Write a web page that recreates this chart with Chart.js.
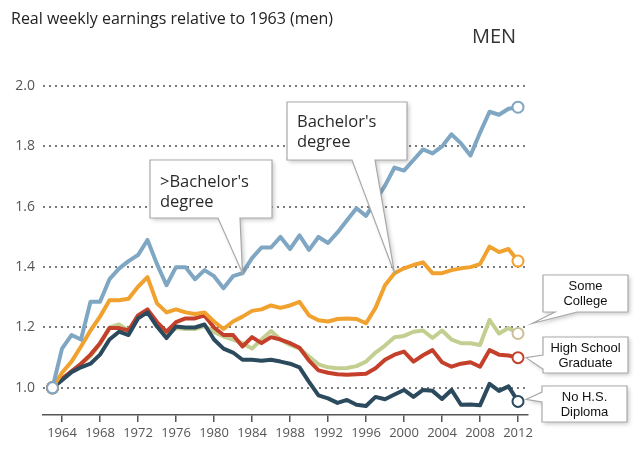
<!DOCTYPE html>
<html>
<head>
<meta charset="utf-8">
<script src="https://cdn.jsdelivr.net/npm/chart.js@4.4.1/dist/chart.umd.min.js"></script>
<style>
  html, body { margin: 0; padding: 0; background: #fff; }
  #wrap { width: 640px; height: 469px; }
</style>
</head>
<body>
<div id="wrap"><canvas id="earnings" width="640" height="469"></canvas></div>
<script>
const years = [1963, 1964, 1965, 1966, 1967, 1968, 1969, 1970, 1971, 1972,
  1973, 1974, 1975, 1976, 1977, 1978, 1979, 1980, 1981, 1982,
  1983, 1984, 1985, 1986, 1987, 1988, 1989, 1990, 1991, 1992,
  1993, 1994, 1995, 1996, 1997, 1998, 1999, 2000, 2001, 2002,
  2003, 2004, 2005, 2006, 2007, 2008, 2009, 2010, 2011, 2012];

// > Bachelor's degree
const moreThanBachelor = [1.00, 1.13, 1.175, 1.16, 1.285, 1.285, 1.36, 1.395, 1.42, 1.44,
  1.49, 1.41, 1.34, 1.40, 1.40, 1.36, 1.39, 1.37, 1.33, 1.37,
  1.38, 1.43, 1.465, 1.465, 1.50, 1.46, 1.505, 1.457, 1.50, 1.48,
  1.515, 1.555, 1.595, 1.57, 1.62, 1.67, 1.73, 1.72, 1.755, 1.79,
  1.777, 1.80, 1.84, 1.81, 1.77, 1.845, 1.915, 1.905, 1.925, 1.93];

const bachelor = [1.00, 1.05, 1.087, 1.137, 1.19, 1.236, 1.29, 1.29, 1.295, 1.335,
  1.367, 1.28, 1.25, 1.26, 1.25, 1.245, 1.25, 1.22, 1.195, 1.22,
  1.236, 1.255, 1.26, 1.273, 1.265, 1.273, 1.285, 1.24, 1.224, 1.22,
  1.228, 1.23, 1.228, 1.214, 1.265, 1.34, 1.38, 1.396, 1.407, 1.416,
  1.38, 1.38, 1.39, 1.396, 1.40, 1.41, 1.468, 1.45, 1.46, 1.42];

const someCollege = [1.00, 1.03, 1.055, 1.08, 1.105, 1.145, 1.20, 1.21, 1.19, 1.235,
  1.255, 1.21, 1.175, 1.198, 1.195, 1.195, 1.205, 1.185, 1.17, 1.16,
  1.148, 1.13, 1.16, 1.188, 1.16, 1.142, 1.13, 1.104, 1.078, 1.068,
  1.065, 1.066, 1.072, 1.087, 1.117, 1.14, 1.168, 1.172, 1.186, 1.19,
  1.165, 1.19, 1.16, 1.148, 1.148, 1.142, 1.225, 1.18, 1.198, 1.18];

const highSchool = [1.00, 1.03, 1.055, 1.08, 1.11, 1.148, 1.198, 1.198, 1.19, 1.24,
  1.26, 1.218, 1.186, 1.218, 1.23, 1.23, 1.24, 1.20, 1.175, 1.175,
  1.137, 1.168, 1.148, 1.168, 1.16, 1.148, 1.133, 1.09, 1.058, 1.05,
  1.045, 1.043, 1.045, 1.047, 1.065, 1.093, 1.11, 1.12, 1.087, 1.108,
  1.125, 1.085, 1.07, 1.08, 1.085, 1.07, 1.125, 1.11, 1.107, 1.10];

const noDiploma = [1.00, 1.025, 1.052, 1.068, 1.08, 1.11, 1.16, 1.186, 1.175, 1.23,
  1.25, 1.203, 1.165, 1.203, 1.20, 1.20, 1.21, 1.16, 1.13, 1.117,
  1.093, 1.093, 1.09, 1.093, 1.087, 1.08, 1.068, 1.02, 0.975, 0.965,
  0.95, 0.96, 0.944, 0.94, 0.97, 0.962, 0.978, 0.993, 0.97, 0.993,
  0.99, 0.963, 0.993, 0.944, 0.945, 0.942, 1.013, 0.99, 1.005, 0.955];

const xTickYears = [1964, 1968, 1972, 1976, 1980, 1984, 1988, 1992, 1996, 2000, 2004, 2008, 2012];
const yTickValues = [1.0, 1.2, 1.4, 1.6, 1.8, 2.0];

const lastIndex = years.length - 1;
const toXY = (vals) => vals.map((v, i) => ({ x: years[i], y: v }));
const endPoints = (ctx) => (ctx.dataIndex === 0 || ctx.dataIndex === lastIndex) ? 5.5 : 0;

function series(label, vals, color, pointColor) {
  return {
    label: label,
    data: toXY(vals),
    borderColor: color,
    borderWidth: 4,
    borderJoinStyle: 'round',
    tension: 0,
    pointRadius: endPoints,
    pointHoverRadius: endPoints,
    pointBackgroundColor: '#fff',
    pointBorderColor: pointColor || color,
    pointBorderWidth: 2,
  };
}

// callout box with a pointer, drawn straight on the canvas
function callout(ctx, box, side, b1, b2, apex, lines, font, opts) {
  const { x, y, w, h } = box;
  let pts;
  if (side === 'bottom') {
    pts = [[x, y], [x + w, y], [x + w, y + h], [b2, y + h], apex, [b1, y + h], [x, y + h]];
  } else {
    pts = [[x, y], [x + w, y], [x + w, y + h], [x, y + h], [x, b2], apex, [x, b1]];
  }
  ctx.save();
  ctx.beginPath();
  pts.forEach((p, i) => i ? ctx.lineTo(p[0], p[1]) : ctx.moveTo(p[0], p[1]));
  ctx.closePath();
  ctx.shadowColor = 'rgba(0,0,0,0.22)';
  ctx.shadowBlur = 4;
  ctx.shadowOffsetX = 2;
  ctx.shadowOffsetY = 2;
  ctx.fillStyle = '#fff';
  ctx.fill();
  ctx.shadowColor = 'transparent';
  ctx.strokeStyle = '#a9a9a9';
  ctx.lineWidth = 1.2;
  ctx.stroke();

  ctx.fillStyle = opts.color;
  ctx.font = font;
  ctx.textAlign = opts.align;
  ctx.textBaseline = 'alphabetic';
  lines.forEach((t, i) => ctx.fillText(t, opts.tx, opts.ty + i * opts.lh));
  ctx.restore();
}

const decorations = {
  id: 'decorations',
  afterDatasetsDraw(chart) {
    const ctx = chart.ctx;
    const xs = chart.scales.x, ys = chart.scales.y;
    const px = (yr) => xs.getPixelForValue(yr);
    const py = (v) => ys.getPixelForValue(v);
    const i83 = years.indexOf(1983), i99 = years.indexOf(1999);

    callout(ctx, { x: 150, y: 160, w: 122, h: 58 }, 'bottom', 218, 240,
      [px(1983), py(moreThanBachelor[i83])], ['>Bachelor\'s', 'degree'],
      '16.5px "Open Sans"', { color: '#2a2a2a', align: 'left', tx: 160, ty: 187, lh: 20 });

    callout(ctx, { x: 287, y: 102, w: 120, h: 58 }, 'bottom', 352, 375,
      [px(1999), py(bachelor[i99])], ['Bachelor\'s', 'degree'],
      '16.5px "Open Sans"', { color: '#2a2a2a', align: 'left', tx: 297, ty: 127, lh: 20 });

    const xe = px(years[lastIndex]);
    const small = '13px "Liberation Sans"';
    callout(ctx, { x: 543, y: 275, w: 85, h: 37 }, 'bottom', 555, 577,
      [xe + 14, py(someCollege[lastIndex]) - 10], ['Some', 'College'],
      small, { color: '#111', align: 'center', tx: 585.5, ty: 290, lh: 15 });

    callout(ctx, { x: 543, y: 337, w: 85, h: 36 }, 'left', 355, 369,
      [xe + 8, py(highSchool[lastIndex])], ['High School', 'Graduate'],
      small, { color: '#111', align: 'center', tx: 585.5, ty: 352, lh: 15 });

    callout(ctx, { x: 542, y: 386, w: 85, h: 36 }, 'left', 392, 402,
      [xe + 8, py(noDiploma[lastIndex]) - 2], ['No H.S.', 'Diploma'],
      small, { color: '#111', align: 'center', tx: 584.5, ty: 401, lh: 15 });

    ctx.save();
    ctx.fillStyle = '#222';
    ctx.font = '16px "Open Sans"';
    ctx.textAlign = 'left';
    ctx.textBaseline = 'alphabetic';
    ctx.fillText('Real weekly earnings relative to 1963 (men)', 11, 24);
    ctx.fillStyle = '#333';
    ctx.font = '20px "Open Sans"';
    ctx.fillText('MEN', 472, 43);
    ctx.restore();
  }
};

Chart.defaults.font.family = '"Open Sans", sans-serif';

new Chart(document.getElementById('earnings').getContext('2d'), {
  type: 'line',
  data: {
    datasets: [
      series('>Bachelor\'s degree', moreThanBachelor, '#7fa6c2'),
      series('Bachelor\'s degree', bachelor, '#f0a12e'),
      series('No H.S. Diploma', noDiploma, '#2c4a5e'),
      series('High School Graduate', highSchool, '#c5402a'),
      series('Some College', someCollege, '#c3cf91', '#cbbf95'),
    ]
  },
  options: {
    responsive: false,
    animation: false,
    layout: { padding: { top: 74, right: 112.5, left: 0, bottom: 0 } },
    plugins: { legend: { display: false }, tooltip: { enabled: false } },
    scales: {
      x: {
        type: 'linear',
        min: 1962,
        max: 2013,
        afterFit: (s) => { s.height = 54; },
        afterBuildTicks: (s) => { s.ticks = xTickYears.map(v => ({ value: v })); },
        border: { display: true, color: '#555', width: 1.5 },
        grid: { drawOnChartArea: false, drawTicks: true, tickLength: 7, color: '#555', lineWidth: 1.5 },
        ticks: { color: '#555', font: { size: 13 }, padding: 3, maxRotation: 0, autoSkip: false,
          callback: (v) => String(v) }
      },
      y: {
        min: 0.91,
        max: 2.04,
        afterFit: (s) => { s.width = 43; },
        afterBuildTicks: (s) => { s.ticks = yTickValues.map(v => ({ value: v })); },
        border: { display: false, dash: [2, 4] },
        grid: { drawTicks: false, color: '#7a7a7a', lineWidth: 2 },
        ticks: { color: '#555', font: { size: 14 }, padding: 8, callback: (v) => v.toFixed(1) }
      }
    }
  },
  plugins: [decorations]
});
</script>
</body>
</html>
